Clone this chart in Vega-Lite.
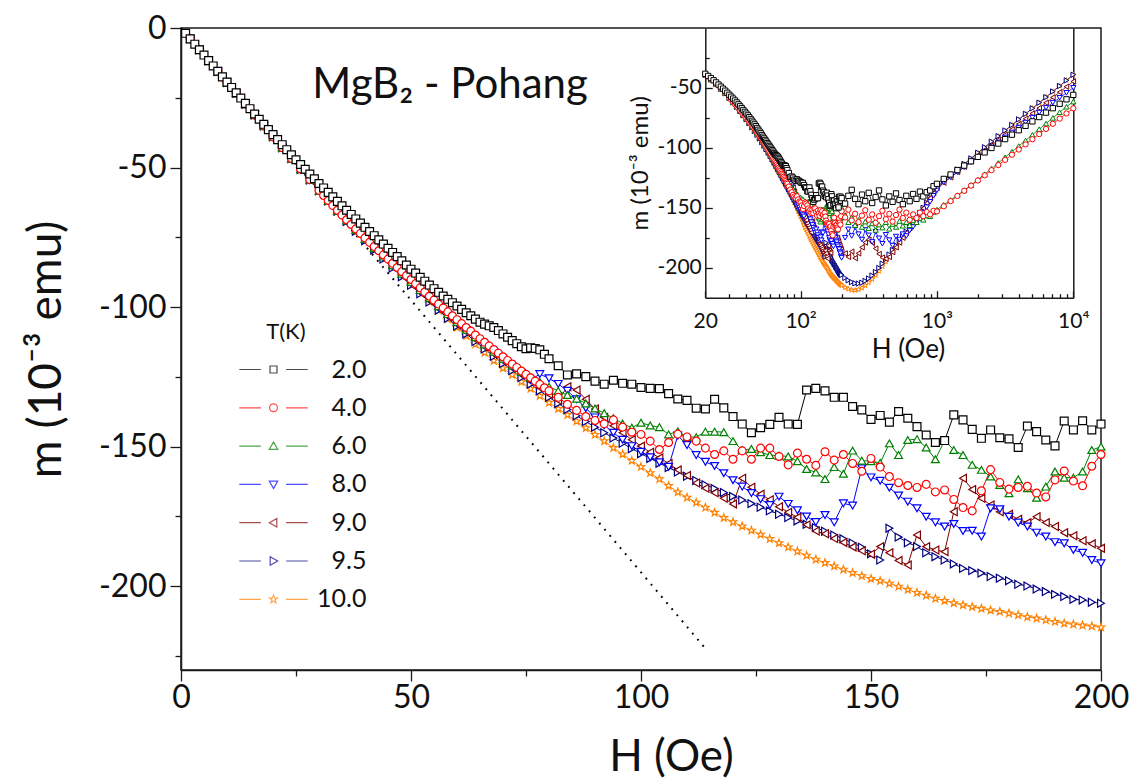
{
"$schema": "https://vega.github.io/schema/vega-lite/v6.json",
"width": 920, "height": 642,
"autosize": {"type": "none"},
"padding": {"left": 181, "top": 28, "right": 40, "bottom": 110},
"background": "white",
"config": {
 "font": "Lato",
 "view": {"stroke": "#1a1a1a", "strokeWidth": 1.5},
 "axis": {"grid": false, "domainColor": "#1a1a1a", "domainWidth": 1.5, "tickColor": "#1a1a1a", "tickWidth": 1.3, "labelColor": "#111", "titleColor": "#111", "titleFontWeight": "normal", "labelFont": "Lato", "titleFont": "Lato", "labelFlush": false, "labelOverlap": false, "labelBound": false}
},
"datasets": {
"dot": [{"H":0,"m":0},{"H":114,"m":-222.3}],
"main": [
{"T":10,"H":2,"m":-3.9},{"T":10,"H":4,"m":-7.8},{"T":10,"H":6,"m":-11.7},{"T":10,"H":8,"m":-15.6},{"T":10,"H":10,"m":-19.5},{"T":10,"H":12,"m":-23.4},{"T":10,"H":14,"m":-27.3},{"T":10,"H":16,"m":-31.2},{"T":10,"H":18,"m":-35.1},{"T":10,"H":20,"m":-39.0},{"T":10,"H":22,"m":-42.9},{"T":10,"H":24,"m":-46.7},{"T":10,"H":26,"m":-50.5},{"T":10,"H":28,"m":-54.3},{"T":10,"H":30,"m":-58.1},{"T":10,"H":32,"m":-61.8},{"T":10,"H":34,"m":-65.4},{"T":10,"H":36,"m":-68.9},{"T":10,"H":38,"m":-72.4},{"T":10,"H":40,"m":-75.8},{"T":10,"H":42,"m":-79.1},{"T":10,"H":44,"m":-82.4},{"T":10,"H":46,"m":-85.6},{"T":10,"H":48,"m":-88.8},{"T":10,"H":50,"m":-91.9},{"T":10,"H":52,"m":-95.0},{"T":10,"H":54,"m":-98.1},{"T":10,"H":56,"m":-101.2},{"T":10,"H":58,"m":-104.3},{"T":10,"H":60,"m":-107.3},{"T":10,"H":62,"m":-110.3},{"T":10,"H":64,"m":-113.3},{"T":10,"H":66,"m":-116.3},{"T":10,"H":68,"m":-119.2},{"T":10,"H":70,"m":-121.9},{"T":10,"H":72,"m":-124.3},{"T":10,"H":74,"m":-126.8},{"T":10,"H":76,"m":-129.2},{"T":10,"H":78,"m":-131.8},{"T":10,"H":80,"m":-134.2},{"T":10,"H":82,"m":-136.4},{"T":10,"H":84,"m":-138.6},{"T":10,"H":86,"m":-140.9},{"T":10,"H":88,"m":-143.3},{"T":10,"H":90,"m":-145.7},{"T":10,"H":92,"m":-148.0},{"T":10,"H":94,"m":-150.4},{"T":10,"H":96,"m":-152.7},{"T":10,"H":98,"m":-155.0},{"T":10,"H":100,"m":-157.2},{"T":10,"H":102,"m":-159.4},{"T":10,"H":104,"m":-161.6},{"T":10,"H":106,"m":-164.0},{"T":10,"H":108,"m":-166.3},{"T":10,"H":110,"m":-168.2},{"T":10,"H":112,"m":-170.0},{"T":10,"H":114,"m":-171.8},{"T":10,"H":116,"m":-173.6},{"T":10,"H":118,"m":-175.5},{"T":10,"H":120,"m":-177.0},{"T":10,"H":122,"m":-178.5},{"T":10,"H":124,"m":-180.0},{"T":10,"H":126,"m":-181.5},{"T":10,"H":128,"m":-183.0},{"T":10,"H":130,"m":-184.5},{"T":10,"H":132,"m":-186.0},{"T":10,"H":134,"m":-187.5},{"T":10,"H":136,"m":-189.0},{"T":10,"H":138,"m":-190.4},{"T":10,"H":140,"m":-191.6},{"T":10,"H":142,"m":-192.8},{"T":10,"H":144,"m":-194.0},{"T":10,"H":146,"m":-195.2},{"T":10,"H":148,"m":-196.3},{"T":10,"H":150,"m":-197.3},{"T":10,"H":152,"m":-198.1},{"T":10,"H":154,"m":-199.0},{"T":10,"H":156,"m":-200.1},{"T":10,"H":158,"m":-201.2},{"T":10,"H":160,"m":-202.3},{"T":10,"H":162,"m":-203.3},{"T":10,"H":164,"m":-204.4},{"T":10,"H":166,"m":-205.2},{"T":10,"H":168,"m":-206.0},{"T":10,"H":170,"m":-206.7},{"T":10,"H":172,"m":-207.4},{"T":10,"H":174,"m":-208.0},{"T":10,"H":176,"m":-208.6},{"T":10,"H":178,"m":-209.1},{"T":10,"H":180,"m":-209.7},{"T":10,"H":182,"m":-210.3},{"T":10,"H":184,"m":-211.0},{"T":10,"H":186,"m":-211.5},{"T":10,"H":188,"m":-212.1},{"T":10,"H":190,"m":-212.7},{"T":10,"H":192,"m":-213.3},{"T":10,"H":194,"m":-213.6},{"T":10,"H":196,"m":-214.0},{"T":10,"H":198,"m":-214.3},{"T":10,"H":200,"m":-214.7},
{"T":9.5,"H":2,"m":-3.9},{"T":9.5,"H":4,"m":-7.8},{"T":9.5,"H":6,"m":-11.7},{"T":9.5,"H":8,"m":-15.6},{"T":9.5,"H":10,"m":-19.5},{"T":9.5,"H":12,"m":-23.4},{"T":9.5,"H":14,"m":-27.3},{"T":9.5,"H":16,"m":-31.2},{"T":9.5,"H":18,"m":-35.1},{"T":9.5,"H":20,"m":-39.0},{"T":9.5,"H":22,"m":-42.9},{"T":9.5,"H":24,"m":-46.8},{"T":9.5,"H":26,"m":-50.7},{"T":9.5,"H":28,"m":-54.5},{"T":9.5,"H":30,"m":-58.3},{"T":9.5,"H":32,"m":-62.0},{"T":9.5,"H":34,"m":-65.7},{"T":9.5,"H":36,"m":-69.3},{"T":9.5,"H":38,"m":-72.8},{"T":9.5,"H":40,"m":-76.2},{"T":9.5,"H":42,"m":-79.5},{"T":9.5,"H":44,"m":-82.8},{"T":9.5,"H":46,"m":-86.0},{"T":9.5,"H":48,"m":-89.1},{"T":9.5,"H":50,"m":-92.2},{"T":9.5,"H":52,"m":-95.2},{"T":9.5,"H":54,"m":-98.2},{"T":9.5,"H":56,"m":-101.1},{"T":9.5,"H":58,"m":-104.0},{"T":9.5,"H":60,"m":-106.8},{"T":9.5,"H":62,"m":-109.6},{"T":9.5,"H":64,"m":-112.3},{"T":9.5,"H":66,"m":-115.0},{"T":9.5,"H":68,"m":-117.6},{"T":9.5,"H":70,"m":-120.2},{"T":9.5,"H":72,"m":-122.7},{"T":9.5,"H":74,"m":-125.2},{"T":9.5,"H":76,"m":-127.6},{"T":9.5,"H":78,"m":-130.0},{"T":9.5,"H":80,"m":-132.3},{"T":9.5,"H":82,"m":-134.5},{"T":9.5,"H":84,"m":-136.7},{"T":9.5,"H":86,"m":-138.9},{"T":9.5,"H":88,"m":-141.0},{"T":9.5,"H":90,"m":-143.0},{"T":9.5,"H":92,"m":-145.0},{"T":9.5,"H":94,"m":-146.9},{"T":9.5,"H":96,"m":-148.8},{"T":9.5,"H":98,"m":-150.7},{"T":9.5,"H":100,"m":-152.5},{"T":9.5,"H":102,"m":-154.2},{"T":9.5,"H":104,"m":-155.9},{"T":9.5,"H":106,"m":-157.5},{"T":9.5,"H":108,"m":-159.1},{"T":9.5,"H":110,"m":-160.6},{"T":9.5,"H":112,"m":-162.1},{"T":9.5,"H":114,"m":-163.6},{"T":9.5,"H":116,"m":-165.0},{"T":9.5,"H":118,"m":-166.4},{"T":9.5,"H":120,"m":-167.8},{"T":9.5,"H":122,"m":-169.1},{"T":9.5,"H":124,"m":-170.4},{"T":9.5,"H":126,"m":-171.7},{"T":9.5,"H":128,"m":-173.0},{"T":9.5,"H":130,"m":-174.2},{"T":9.5,"H":132,"m":-175.4},{"T":9.5,"H":134,"m":-176.6},{"T":9.5,"H":136,"m":-177.8},{"T":9.5,"H":138,"m":-179.0},{"T":9.5,"H":140,"m":-180.3},{"T":9.5,"H":142,"m":-181.6},{"T":9.5,"H":144,"m":-183.0},{"T":9.5,"H":146,"m":-184.5},{"T":9.5,"H":148,"m":-186.0},{"T":9.5,"H":150,"m":-188.4},{"T":9.5,"H":152,"m":-190.6},{"T":9.5,"H":154,"m":-179.2},{"T":9.5,"H":156,"m":-182.4},{"T":9.5,"H":158,"m":-184.4},{"T":9.5,"H":160,"m":-185.8},{"T":9.5,"H":162,"m":-188.0},{"T":9.5,"H":164,"m":-189.4},{"T":9.5,"H":166,"m":-190.6},{"T":9.5,"H":168,"m":-192.0},{"T":9.5,"H":170,"m":-193.6},{"T":9.5,"H":172,"m":-194.4},{"T":9.5,"H":174,"m":-195.3},{"T":9.5,"H":176,"m":-196.5},{"T":9.5,"H":178,"m":-197.1},{"T":9.5,"H":180,"m":-198.0},{"T":9.5,"H":182,"m":-199.3},{"T":9.5,"H":184,"m":-199.9},{"T":9.5,"H":186,"m":-201.0},{"T":9.5,"H":188,"m":-201.9},{"T":9.5,"H":190,"m":-202.9},{"T":9.5,"H":192,"m":-203.7},{"T":9.5,"H":194,"m":-204.7},{"T":9.5,"H":196,"m":-204.9},{"T":9.5,"H":198,"m":-205.7},{"T":9.5,"H":200,"m":-206.1},
{"T":9,"H":2,"m":-3.9},{"T":9,"H":4,"m":-7.8},{"T":9,"H":6,"m":-11.7},{"T":9,"H":8,"m":-15.6},{"T":9,"H":10,"m":-19.5},{"T":9,"H":12,"m":-23.4},{"T":9,"H":14,"m":-27.3},{"T":9,"H":16,"m":-31.2},{"T":9,"H":18,"m":-35.1},{"T":9,"H":20,"m":-39.0},{"T":9,"H":22,"m":-42.9},{"T":9,"H":24,"m":-46.8},{"T":9,"H":26,"m":-50.7},{"T":9,"H":28,"m":-54.5},{"T":9,"H":30,"m":-58.3},{"T":9,"H":32,"m":-62.0},{"T":9,"H":34,"m":-65.7},{"T":9,"H":36,"m":-69.2},{"T":9,"H":38,"m":-72.7},{"T":9,"H":40,"m":-76.0},{"T":9,"H":42,"m":-79.3},{"T":9,"H":44,"m":-82.5},{"T":9,"H":46,"m":-85.7},{"T":9,"H":48,"m":-88.8},{"T":9,"H":50,"m":-91.8},{"T":9,"H":52,"m":-94.8},{"T":9,"H":54,"m":-97.7},{"T":9,"H":56,"m":-100.6},{"T":9,"H":58,"m":-103.4},{"T":9,"H":60,"m":-106.2},{"T":9,"H":62,"m":-108.9},{"T":9,"H":64,"m":-111.6},{"T":9,"H":66,"m":-114.2},{"T":9,"H":68,"m":-116.8},{"T":9,"H":70,"m":-119.3},{"T":9,"H":72,"m":-121.8},{"T":9,"H":74,"m":-124.2},{"T":9,"H":76,"m":-126.6},{"T":9,"H":78,"m":-128.9},{"T":9,"H":80,"m":-131.2},{"T":9,"H":82,"m":-133.4},{"T":9,"H":84,"m":-128.5},{"T":9,"H":86,"m":-129.7},{"T":9,"H":88,"m":-133.0},{"T":9,"H":90,"m":-136.5},{"T":9,"H":92,"m":-139.5},{"T":9,"H":94,"m":-142.5},{"T":9,"H":96,"m":-145.0},{"T":9,"H":98,"m":-147.5},{"T":9,"H":100,"m":-149.8},{"T":9,"H":102,"m":-152.0},{"T":9,"H":104,"m":-154.0},{"T":9,"H":106,"m":-156.0},{"T":9,"H":108,"m":-158.3},{"T":9,"H":110,"m":-160.3},{"T":9,"H":112,"m":-163.0},{"T":9,"H":114,"m":-164.9},{"T":9,"H":116,"m":-166.5},{"T":9,"H":118,"m":-168.5},{"T":9,"H":120,"m":-170.5},{"T":9,"H":122,"m":-161.3},{"T":9,"H":124,"m":-164.5},{"T":9,"H":126,"m":-167.0},{"T":9,"H":128,"m":-169.0},{"T":9,"H":130,"m":-171.5},{"T":9,"H":132,"m":-173.5},{"T":9,"H":134,"m":-175.3},{"T":9,"H":136,"m":-178.0},{"T":9,"H":138,"m":-180.2},{"T":9,"H":140,"m":-181.2},{"T":9,"H":142,"m":-182.9},{"T":9,"H":144,"m":-184.3},{"T":9,"H":146,"m":-185.9},{"T":9,"H":148,"m":-187.3},{"T":9,"H":150,"m":-188.5},{"T":9,"H":152,"m":-185.8},{"T":9,"H":154,"m":-188.0},{"T":9,"H":156,"m":-190.8},{"T":9,"H":158,"m":-192.4},{"T":9,"H":160,"m":-181.6},{"T":9,"H":162,"m":-185.8},{"T":9,"H":164,"m":-187.0},{"T":9,"H":166,"m":-187.6},{"T":9,"H":168,"m":-173.3},{"T":9,"H":170,"m":-161.3},{"T":9,"H":172,"m":-165.3},{"T":9,"H":174,"m":-168.5},{"T":9,"H":176,"m":-170.9},{"T":9,"H":178,"m":-173.3},{"T":9,"H":180,"m":-174.2},{"T":9,"H":182,"m":-176.0},{"T":9,"H":184,"m":-177.2},{"T":9,"H":186,"m":-175.1},{"T":9,"H":188,"m":-177.2},{"T":9,"H":190,"m":-178.6},{"T":9,"H":192,"m":-180.8},{"T":9,"H":194,"m":-181.9},{"T":9,"H":196,"m":-183.7},{"T":9,"H":198,"m":-184.8},{"T":9,"H":200,"m":-186.4},
{"T":8,"H":2,"m":-3.9},{"T":8,"H":4,"m":-7.8},{"T":8,"H":6,"m":-11.7},{"T":8,"H":8,"m":-15.6},{"T":8,"H":10,"m":-19.5},{"T":8,"H":12,"m":-23.4},{"T":8,"H":14,"m":-27.3},{"T":8,"H":16,"m":-31.2},{"T":8,"H":18,"m":-35.1},{"T":8,"H":20,"m":-39.0},{"T":8,"H":22,"m":-42.9},{"T":8,"H":24,"m":-46.8},{"T":8,"H":26,"m":-50.7},{"T":8,"H":28,"m":-54.5},{"T":8,"H":30,"m":-58.3},{"T":8,"H":32,"m":-62.0},{"T":8,"H":34,"m":-65.6},{"T":8,"H":36,"m":-69.1},{"T":8,"H":38,"m":-72.5},{"T":8,"H":40,"m":-75.8},{"T":8,"H":42,"m":-79.0},{"T":8,"H":44,"m":-82.2},{"T":8,"H":46,"m":-85.3},{"T":8,"H":48,"m":-88.4},{"T":8,"H":50,"m":-91.4},{"T":8,"H":52,"m":-94.3},{"T":8,"H":54,"m":-97.2},{"T":8,"H":56,"m":-100.1},{"T":8,"H":58,"m":-102.9},{"T":8,"H":60,"m":-105.6},{"T":8,"H":62,"m":-108.3},{"T":8,"H":64,"m":-111.0},{"T":8,"H":66,"m":-113.6},{"T":8,"H":68,"m":-116.2},{"T":8,"H":70,"m":-118.8},{"T":8,"H":72,"m":-121.3},{"T":8,"H":74,"m":-123.7},{"T":8,"H":76,"m":-126.1},{"T":8,"H":78,"m":-124.0},{"T":8,"H":80,"m":-125.5},{"T":8,"H":82,"m":-127.5},{"T":8,"H":84,"m":-130.0},{"T":8,"H":86,"m":-133.0},{"T":8,"H":88,"m":-136.2},{"T":8,"H":90,"m":-139.5},{"T":8,"H":92,"m":-142.3},{"T":8,"H":94,"m":-145.0},{"T":8,"H":96,"m":-147.5},{"T":8,"H":98,"m":-149.8},{"T":8,"H":100,"m":-151.8},{"T":8,"H":102,"m":-153.8},{"T":8,"H":104,"m":-155.6},{"T":8,"H":106,"m":-157.2},{"T":8,"H":108,"m":-146.0},{"T":8,"H":110,"m":-149.4},{"T":8,"H":112,"m":-153.0},{"T":8,"H":114,"m":-155.4},{"T":8,"H":116,"m":-156.9},{"T":8,"H":118,"m":-159.5},{"T":8,"H":120,"m":-162.0},{"T":8,"H":122,"m":-164.3},{"T":8,"H":124,"m":-166.6},{"T":8,"H":126,"m":-168.8},{"T":8,"H":128,"m":-170.9},{"T":8,"H":130,"m":-167.9},{"T":8,"H":132,"m":-170.5},{"T":8,"H":134,"m":-172.8},{"T":8,"H":136,"m":-175.0},{"T":8,"H":138,"m":-177.0},{"T":8,"H":140,"m":-174.5},{"T":8,"H":142,"m":-177.1},{"T":8,"H":144,"m":-170.3},{"T":8,"H":146,"m":-171.1},{"T":8,"H":148,"m":-157.7},{"T":8,"H":150,"m":-161.0},{"T":8,"H":152,"m":-162.2},{"T":8,"H":154,"m":-164.7},{"T":8,"H":156,"m":-167.5},{"T":8,"H":158,"m":-169.7},{"T":8,"H":160,"m":-172.1},{"T":8,"H":162,"m":-175.1},{"T":8,"H":164,"m":-177.1},{"T":8,"H":166,"m":-178.6},{"T":8,"H":168,"m":-177.7},{"T":8,"H":170,"m":-180.2},{"T":8,"H":172,"m":-180.1},{"T":8,"H":174,"m":-182.2},{"T":8,"H":176,"m":-172.1},{"T":8,"H":178,"m":-172.4},{"T":8,"H":180,"m":-175.1},{"T":8,"H":182,"m":-177.2},{"T":8,"H":184,"m":-178.6},{"T":8,"H":186,"m":-180.8},{"T":8,"H":188,"m":-182.2},{"T":8,"H":190,"m":-184.2},{"T":8,"H":192,"m":-184.6},{"T":8,"H":194,"m":-187.0},{"T":8,"H":196,"m":-188.0},{"T":8,"H":198,"m":-190.6},{"T":8,"H":200,"m":-191.8},
{"T":6,"H":2,"m":-3.9},{"T":6,"H":4,"m":-7.8},{"T":6,"H":6,"m":-11.7},{"T":6,"H":8,"m":-15.6},{"T":6,"H":10,"m":-19.5},{"T":6,"H":12,"m":-23.4},{"T":6,"H":14,"m":-27.3},{"T":6,"H":16,"m":-31.2},{"T":6,"H":18,"m":-35.1},{"T":6,"H":20,"m":-39.0},{"T":6,"H":22,"m":-42.9},{"T":6,"H":24,"m":-46.8},{"T":6,"H":26,"m":-50.6},{"T":6,"H":28,"m":-54.4},{"T":6,"H":30,"m":-58.3},{"T":6,"H":32,"m":-62.0},{"T":6,"H":34,"m":-65.6},{"T":6,"H":36,"m":-69.0},{"T":6,"H":38,"m":-72.4},{"T":6,"H":40,"m":-75.6},{"T":6,"H":42,"m":-78.8},{"T":6,"H":44,"m":-81.9},{"T":6,"H":46,"m":-85.0},{"T":6,"H":48,"m":-88.0},{"T":6,"H":50,"m":-91.0},{"T":6,"H":52,"m":-93.9},{"T":6,"H":54,"m":-96.8},{"T":6,"H":56,"m":-99.7},{"T":6,"H":58,"m":-102.5},{"T":6,"H":60,"m":-105.3},{"T":6,"H":62,"m":-108.1},{"T":6,"H":64,"m":-110.8},{"T":6,"H":66,"m":-113.4},{"T":6,"H":68,"m":-116.0},{"T":6,"H":70,"m":-118.5},{"T":6,"H":72,"m":-120.9},{"T":6,"H":74,"m":-123.2},{"T":6,"H":76,"m":-125.2},{"T":6,"H":78,"m":-126.8},{"T":6,"H":80,"m":-128.5},{"T":6,"H":82,"m":-130.0},{"T":6,"H":84,"m":-131.5},{"T":6,"H":86,"m":-132.8},{"T":6,"H":88,"m":-134.5},{"T":6,"H":90,"m":-136.3},{"T":6,"H":92,"m":-138.0},{"T":6,"H":94,"m":-139.8},{"T":6,"H":96,"m":-141.7},{"T":6,"H":98,"m":-143.2},{"T":6,"H":100,"m":-141.4},{"T":6,"H":102,"m":-142.4},{"T":6,"H":104,"m":-143.0},{"T":6,"H":106,"m":-145.6},{"T":6,"H":108,"m":-144.5},{"T":6,"H":110,"m":-146.5},{"T":6,"H":112,"m":-146.6},{"T":6,"H":114,"m":-144.6},{"T":6,"H":116,"m":-144.6},{"T":6,"H":118,"m":-144.8},{"T":6,"H":120,"m":-148.0},{"T":6,"H":122,"m":-151.2},{"T":6,"H":124,"m":-150.8},{"T":6,"H":126,"m":-152.0},{"T":6,"H":128,"m":-153.0},{"T":6,"H":130,"m":-153.2},{"T":6,"H":132,"m":-153.5},{"T":6,"H":134,"m":-155.2},{"T":6,"H":136,"m":-158.0},{"T":6,"H":138,"m":-159.2},{"T":6,"H":140,"m":-161.6},{"T":6,"H":142,"m":-157.3},{"T":6,"H":144,"m":-159.7},{"T":6,"H":146,"m":-151.4},{"T":6,"H":148,"m":-155.0},{"T":6,"H":150,"m":-155.2},{"T":6,"H":152,"m":-155.8},{"T":6,"H":154,"m":-148.8},{"T":6,"H":156,"m":-153.0},{"T":6,"H":158,"m":-147.6},{"T":6,"H":160,"m":-147.3},{"T":6,"H":162,"m":-150.3},{"T":6,"H":164,"m":-154.5},{"T":6,"H":166,"m":-147.8},{"T":6,"H":168,"m":-151.2},{"T":6,"H":170,"m":-153.0},{"T":6,"H":172,"m":-156.5},{"T":6,"H":174,"m":-158.3},{"T":6,"H":176,"m":-160.7},{"T":6,"H":178,"m":-163.7},{"T":6,"H":180,"m":-166.7},{"T":6,"H":182,"m":-161.7},{"T":6,"H":184,"m":-164.9},{"T":6,"H":186,"m":-168.3},{"T":6,"H":188,"m":-164.3},{"T":6,"H":190,"m":-158.9},{"T":6,"H":192,"m":-161.1},{"T":6,"H":194,"m":-161.1},{"T":6,"H":196,"m":-158.9},{"T":6,"H":198,"m":-151.2},{"T":6,"H":200,"m":-150.0},
{"T":4,"H":2,"m":-3.9},{"T":4,"H":4,"m":-7.8},{"T":4,"H":6,"m":-11.7},{"T":4,"H":8,"m":-15.6},{"T":4,"H":10,"m":-19.5},{"T":4,"H":12,"m":-23.4},{"T":4,"H":14,"m":-27.3},{"T":4,"H":16,"m":-31.2},{"T":4,"H":18,"m":-35.1},{"T":4,"H":20,"m":-39.0},{"T":4,"H":22,"m":-42.9},{"T":4,"H":24,"m":-46.7},{"T":4,"H":26,"m":-50.5},{"T":4,"H":28,"m":-54.3},{"T":4,"H":30,"m":-58.2},{"T":4,"H":31,"m":-60.0},{"T":4,"H":32,"m":-61.8},{"T":4,"H":33,"m":-63.6},{"T":4,"H":34,"m":-65.3},{"T":4,"H":35,"m":-67.0},{"T":4,"H":36,"m":-68.7},{"T":4,"H":37,"m":-70.4},{"T":4,"H":38,"m":-72.0},{"T":4,"H":39,"m":-73.6},{"T":4,"H":40,"m":-75.2},{"T":4,"H":41,"m":-76.8},{"T":4,"H":42,"m":-78.3},{"T":4,"H":43,"m":-79.8},{"T":4,"H":44,"m":-81.3},{"T":4,"H":45,"m":-82.8},{"T":4,"H":46,"m":-84.3},{"T":4,"H":47,"m":-85.8},{"T":4,"H":48,"m":-87.3},{"T":4,"H":49,"m":-88.7},{"T":4,"H":50,"m":-90.1},{"T":4,"H":51,"m":-91.6},{"T":4,"H":52,"m":-93.1},{"T":4,"H":53,"m":-94.6},{"T":4,"H":54,"m":-96.1},{"T":4,"H":55,"m":-97.5},{"T":4,"H":56,"m":-98.9},{"T":4,"H":57,"m":-100.3},{"T":4,"H":58,"m":-101.7},{"T":4,"H":59,"m":-103.1},{"T":4,"H":60,"m":-104.5},{"T":4,"H":61,"m":-105.9},{"T":4,"H":62,"m":-107.3},{"T":4,"H":63,"m":-108.6},{"T":4,"H":64,"m":-110.0},{"T":4,"H":65,"m":-111.3},{"T":4,"H":66,"m":-112.6},{"T":4,"H":67,"m":-113.9},{"T":4,"H":68,"m":-115.2},{"T":4,"H":69,"m":-116.5},{"T":4,"H":70,"m":-117.8},{"T":4,"H":71,"m":-119.1},{"T":4,"H":72,"m":-120.4},{"T":4,"H":73,"m":-121.6},{"T":4,"H":74,"m":-122.9},{"T":4,"H":75,"m":-124.1},{"T":4,"H":76,"m":-125.3},{"T":4,"H":77,"m":-126.5},{"T":4,"H":78,"m":-127.7},{"T":4,"H":79,"m":-128.9},{"T":4,"H":80,"m":-130.0},{"T":4,"H":82,"m":-132.3},{"T":4,"H":84,"m":-134.8},{"T":4,"H":86,"m":-137.0},{"T":4,"H":88,"m":-139.2},{"T":4,"H":90,"m":-140.6},{"T":4,"H":92,"m":-141.8},{"T":4,"H":94,"m":-140.4},{"T":4,"H":96,"m":-143.0},{"T":4,"H":98,"m":-144.8},{"T":4,"H":100,"m":-145.6},{"T":4,"H":102,"m":-148.0},{"T":4,"H":104,"m":-151.0},{"T":4,"H":106,"m":-148.5},{"T":4,"H":108,"m":-145.5},{"T":4,"H":110,"m":-146.5},{"T":4,"H":112,"m":-148.0},{"T":4,"H":114,"m":-150.5},{"T":4,"H":116,"m":-152.8},{"T":4,"H":118,"m":-151.5},{"T":4,"H":120,"m":-154.5},{"T":4,"H":122,"m":-151.5},{"T":4,"H":124,"m":-154.5},{"T":4,"H":126,"m":-150.5},{"T":4,"H":128,"m":-150.5},{"T":4,"H":130,"m":-153.5},{"T":4,"H":132,"m":-156.5},{"T":4,"H":134,"m":-152.3},{"T":4,"H":136,"m":-154.5},{"T":4,"H":138,"m":-156.7},{"T":4,"H":140,"m":-151.8},{"T":4,"H":142,"m":-154.8},{"T":4,"H":144,"m":-152.8},{"T":4,"H":146,"m":-156.0},{"T":4,"H":148,"m":-158.8},{"T":4,"H":150,"m":-154.2},{"T":4,"H":152,"m":-157.3},{"T":4,"H":154,"m":-160.7},{"T":4,"H":156,"m":-162.9},{"T":4,"H":158,"m":-163.9},{"T":4,"H":160,"m":-164.6},{"T":4,"H":162,"m":-163.5},{"T":4,"H":164,"m":-166.2},{"T":4,"H":166,"m":-165.5},{"T":4,"H":168,"m":-168.9},{"T":4,"H":170,"m":-171.8},{"T":4,"H":172,"m":-173.0},{"T":4,"H":174,"m":-165.8},{"T":4,"H":176,"m":-158.2},{"T":4,"H":178,"m":-162.8},{"T":4,"H":180,"m":-165.2},{"T":4,"H":182,"m":-164.6},{"T":4,"H":184,"m":-164.2},{"T":4,"H":186,"m":-166.6},{"T":4,"H":188,"m":-168.0},{"T":4,"H":190,"m":-161.9},{"T":4,"H":192,"m":-158.7},{"T":4,"H":194,"m":-162.3},{"T":4,"H":196,"m":-164.0},{"T":4,"H":198,"m":-157.0},{"T":4,"H":200,"m":-152.8},
{"T":2,"H":1,"m":-1.9},{"T":2,"H":2,"m":-3.9},{"T":2,"H":3,"m":-5.8},{"T":2,"H":4,"m":-7.8},{"T":2,"H":5,"m":-9.7},{"T":2,"H":6,"m":-11.7},{"T":2,"H":7,"m":-13.6},{"T":2,"H":8,"m":-15.5},{"T":2,"H":9,"m":-17.5},{"T":2,"H":10,"m":-19.4},{"T":2,"H":11,"m":-21.3},{"T":2,"H":12,"m":-23.2},{"T":2,"H":13,"m":-25.1},{"T":2,"H":14,"m":-27.0},{"T":2,"H":15,"m":-28.9},{"T":2,"H":16,"m":-30.8},{"T":2,"H":17,"m":-32.7},{"T":2,"H":18,"m":-34.5},{"T":2,"H":19,"m":-36.4},{"T":2,"H":20,"m":-38.2},{"T":2,"H":21,"m":-40.0},{"T":2,"H":22,"m":-41.8},{"T":2,"H":23,"m":-43.6},{"T":2,"H":24,"m":-45.4},{"T":2,"H":25,"m":-47.2},{"T":2,"H":26,"m":-48.9},{"T":2,"H":27,"m":-50.6},{"T":2,"H":28,"m":-52.3},{"T":2,"H":29,"m":-54.0},{"T":2,"H":30,"m":-55.7},{"T":2,"H":31,"m":-57.3},{"T":2,"H":32,"m":-58.9},{"T":2,"H":33,"m":-60.5},{"T":2,"H":34,"m":-62.1},{"T":2,"H":35,"m":-63.7},{"T":2,"H":36,"m":-65.3},{"T":2,"H":37,"m":-66.8},{"T":2,"H":38,"m":-68.4},{"T":2,"H":39,"m":-69.9},{"T":2,"H":40,"m":-71.4},{"T":2,"H":41,"m":-72.9},{"T":2,"H":42,"m":-74.4},{"T":2,"H":43,"m":-75.9},{"T":2,"H":44,"m":-77.4},{"T":2,"H":45,"m":-78.9},{"T":2,"H":46,"m":-80.4},{"T":2,"H":47,"m":-81.9},{"T":2,"H":48,"m":-83.4},{"T":2,"H":49,"m":-84.9},{"T":2,"H":50,"m":-86.4},{"T":2,"H":51,"m":-87.8},{"T":2,"H":52,"m":-89.3},{"T":2,"H":53,"m":-90.7},{"T":2,"H":54,"m":-92.1},{"T":2,"H":55,"m":-93.4},{"T":2,"H":56,"m":-94.7},{"T":2,"H":57,"m":-96.0},{"T":2,"H":58,"m":-97.2},{"T":2,"H":59,"m":-98.4},{"T":2,"H":60,"m":-99.6},{"T":2,"H":61,"m":-100.8},{"T":2,"H":62,"m":-102.0},{"T":2,"H":63,"m":-103.1},{"T":2,"H":64,"m":-104.3},{"T":2,"H":65,"m":-105.4},{"T":2,"H":66,"m":-106.1},{"T":2,"H":67,"m":-106.7},{"T":2,"H":68,"m":-107.3},{"T":2,"H":69,"m":-108.4},{"T":2,"H":70,"m":-109.6},{"T":2,"H":71,"m":-110.8},{"T":2,"H":72,"m":-112.0},{"T":2,"H":73,"m":-113.1},{"T":2,"H":74,"m":-114.2},{"T":2,"H":75,"m":-114.9},{"T":2,"H":76,"m":-114.6},{"T":2,"H":77,"m":-114.8},{"T":2,"H":78,"m":-115.3},{"T":2,"H":79,"m":-116.9},{"T":2,"H":80,"m":-118.5},{"T":2,"H":82,"m":-121.0},{"T":2,"H":84,"m":-124.3},{"T":2,"H":86,"m":-123.9},{"T":2,"H":88,"m":-124.9},{"T":2,"H":90,"m":-126.5},{"T":2,"H":92,"m":-127.6},{"T":2,"H":94,"m":-126.2},{"T":2,"H":96,"m":-127.3},{"T":2,"H":98,"m":-127.6},{"T":2,"H":100,"m":-128.8},{"T":2,"H":102,"m":-129.1},{"T":2,"H":104,"m":-129.2},{"T":2,"H":106,"m":-131.0},{"T":2,"H":108,"m":-132.9},{"T":2,"H":110,"m":-133.4},{"T":2,"H":112,"m":-136.2},{"T":2,"H":114,"m":-136.5},{"T":2,"H":116,"m":-133.0},{"T":2,"H":118,"m":-136.1},{"T":2,"H":120,"m":-139.2},{"T":2,"H":122,"m":-141.9},{"T":2,"H":124,"m":-145.0},{"T":2,"H":126,"m":-143.2},{"T":2,"H":128,"m":-142.0},{"T":2,"H":130,"m":-139.5},{"T":2,"H":132,"m":-141.9},{"T":2,"H":134,"m":-142.0},{"T":2,"H":136,"m":-129.7},{"T":2,"H":138,"m":-129.1},{"T":2,"H":140,"m":-130.0},{"T":2,"H":142,"m":-132.3},{"T":2,"H":144,"m":-132.3},{"T":2,"H":146,"m":-135.6},{"T":2,"H":148,"m":-136.8},{"T":2,"H":150,"m":-140.2},{"T":2,"H":152,"m":-138.8},{"T":2,"H":154,"m":-141.2},{"T":2,"H":156,"m":-137.4},{"T":2,"H":158,"m":-139.8},{"T":2,"H":160,"m":-142.8},{"T":2,"H":162,"m":-145.8},{"T":2,"H":164,"m":-148.5},{"T":2,"H":166,"m":-147.8},{"T":2,"H":168,"m":-138.6},{"T":2,"H":170,"m":-140.4},{"T":2,"H":172,"m":-143.8},{"T":2,"H":174,"m":-147.0},{"T":2,"H":176,"m":-144.0},{"T":2,"H":178,"m":-146.8},{"T":2,"H":180,"m":-147.2},{"T":2,"H":182,"m":-150.3},{"T":2,"H":184,"m":-142.6},{"T":2,"H":186,"m":-144.6},{"T":2,"H":188,"m":-147.6},{"T":2,"H":190,"m":-149.7},{"T":2,"H":192,"m":-140.8},{"T":2,"H":194,"m":-144.0},{"T":2,"H":196,"m":-140.7},{"T":2,"H":198,"m":-144.0},{"T":2,"H":200,"m":-141.9}
],
"ins": [
{"T":10,"H":212,"m":-216.5},{"T":10,"H":224,"m":-217.8},{"T":10,"H":237,"m":-218.6},{"T":10,"H":251,"m":-218.8},{"T":10,"H":266,"m":-218.2},{"T":10,"H":282,"m":-216.8},{"T":10,"H":298,"m":-214.8},{"T":10,"H":316,"m":-212.3},{"T":10,"H":335,"m":-209.5},{"T":10,"H":355,"m":-206.3},{"T":10,"H":376,"m":-202.8},{"T":10,"H":398,"m":-199.0},{"T":10,"H":422,"m":-195.0},{"T":10,"H":447,"m":-191.0},{"T":10,"H":473,"m":-187.0},{"T":10,"H":501,"m":-183.0},{"T":10,"H":531,"m":-179.0},{"T":10,"H":562,"m":-175.0},{"T":10,"H":596,"m":-171.0},{"T":10,"H":631,"m":-167.0},{"T":10,"H":668,"m":-163.0},{"T":10,"H":708,"m":-158.8},{"T":10,"H":750,"m":-154.5},{"T":10,"H":794,"m":-150.2},{"T":10,"H":841,"m":-146.0},{"T":10,"H":891,"m":-141.8},{"T":10,"H":944,"m":-137.5},{"T":10,"H":1000,"m":-133.0},{"T":10,"H":1122,"m":-127.8},{"T":10,"H":1259,"m":-123.2},{"T":10,"H":1413,"m":-118.5},{"T":10,"H":1585,"m":-113.8},{"T":10,"H":1778,"m":-109.1},{"T":10,"H":1995,"m":-104.4},{"T":10,"H":2239,"m":-99.8},{"T":10,"H":2512,"m":-95.1},{"T":10,"H":2818,"m":-90.4},{"T":10,"H":3162,"m":-85.8},{"T":10,"H":3548,"m":-81.1},{"T":10,"H":3981,"m":-76.4},{"T":10,"H":4467,"m":-71.7},{"T":10,"H":5012,"m":-67.0},{"T":10,"H":5623,"m":-62.4},{"T":10,"H":6310,"m":-57.7},{"T":10,"H":7079,"m":-53.0},{"T":10,"H":7943,"m":-48.3},{"T":10,"H":8913,"m":-43.6},{"T":10,"H":10000,"m":-39.0},
{"T":9.5,"H":212,"m":-208.5},{"T":9.5,"H":224,"m":-210.5},{"T":9.5,"H":237,"m":-212.0},{"T":9.5,"H":251,"m":-213.0},{"T":9.5,"H":266,"m":-213.2},{"T":9.5,"H":282,"m":-212.5},{"T":9.5,"H":298,"m":-211.0},{"T":9.5,"H":316,"m":-209.0},{"T":9.5,"H":335,"m":-206.5},{"T":9.5,"H":355,"m":-203.5},{"T":9.5,"H":376,"m":-200.2},{"T":9.5,"H":398,"m":-196.6},{"T":9.5,"H":422,"m":-192.8},{"T":9.5,"H":447,"m":-189.0},{"T":9.5,"H":473,"m":-185.2},{"T":9.5,"H":501,"m":-181.4},{"T":9.5,"H":531,"m":-177.6},{"T":9.5,"H":562,"m":-173.8},{"T":9.5,"H":596,"m":-170.0},{"T":9.5,"H":631,"m":-166.2},{"T":9.5,"H":668,"m":-162.3},{"T":9.5,"H":708,"m":-158.3},{"T":9.5,"H":750,"m":-154.2},{"T":9.5,"H":794,"m":-150.0},{"T":9.5,"H":841,"m":-145.8},{"T":9.5,"H":891,"m":-141.6},{"T":9.5,"H":944,"m":-137.3},{"T":9.5,"H":1000,"m":-133.0},{"T":9.5,"H":1122,"m":-127.3},{"T":9.5,"H":1259,"m":-122.7},{"T":9.5,"H":1413,"m":-118.1},{"T":9.5,"H":1585,"m":-113.4},{"T":9.5,"H":1778,"m":-108.8},{"T":9.5,"H":1995,"m":-104.1},{"T":9.5,"H":2239,"m":-99.5},{"T":9.5,"H":2512,"m":-94.8},{"T":9.5,"H":2818,"m":-90.2},{"T":9.5,"H":3162,"m":-85.5},{"T":9.5,"H":3548,"m":-80.9},{"T":9.5,"H":3981,"m":-76.2},{"T":9.5,"H":4467,"m":-71.6},{"T":9.5,"H":5012,"m":-67.0},{"T":9.5,"H":5623,"m":-62.3},{"T":9.5,"H":6310,"m":-57.7},{"T":9.5,"H":7079,"m":-53.0},{"T":9.5,"H":7943,"m":-48.4},{"T":9.5,"H":8913,"m":-43.7},{"T":9.5,"H":10000,"m":-39.0},
{"T":9,"H":212,"m":-188.0},{"T":9,"H":224,"m":-191.0},{"T":9,"H":237,"m":-186.5},{"T":9,"H":251,"m":-192.0},{"T":9,"H":266,"m":-188.0},{"T":9,"H":282,"m":-183.0},{"T":9,"H":298,"m":-179.0},{"T":9,"H":316,"m":-176.5},{"T":9,"H":335,"m":-179.0},{"T":9,"H":355,"m":-184.0},{"T":9,"H":376,"m":-188.5},{"T":9,"H":398,"m":-191.5},{"T":9,"H":422,"m":-192.5},{"T":9,"H":447,"m":-191.0},{"T":9,"H":473,"m":-187.0},{"T":9,"H":501,"m":-183.0},{"T":9,"H":531,"m":-179.0},{"T":9,"H":562,"m":-175.0},{"T":9,"H":596,"m":-171.0},{"T":9,"H":631,"m":-167.0},{"T":9,"H":668,"m":-163.0},{"T":9,"H":708,"m":-158.8},{"T":9,"H":750,"m":-154.6},{"T":9,"H":794,"m":-150.4},{"T":9,"H":841,"m":-146.2},{"T":9,"H":891,"m":-142.0},{"T":9,"H":944,"m":-137.8},{"T":9,"H":1000,"m":-133.5},{"T":9,"H":1122,"m":-129.1},{"T":9,"H":1259,"m":-124.6},{"T":9,"H":1413,"m":-120.2},{"T":9,"H":1585,"m":-115.7},{"T":9,"H":1778,"m":-111.3},{"T":9,"H":1995,"m":-106.8},{"T":9,"H":2239,"m":-102.4},{"T":9,"H":2512,"m":-97.9},{"T":9,"H":2818,"m":-93.5},{"T":9,"H":3162,"m":-89.1},{"T":9,"H":3548,"m":-84.6},{"T":9,"H":3981,"m":-80.2},{"T":9,"H":4467,"m":-75.7},{"T":9,"H":5012,"m":-71.3},{"T":9,"H":5623,"m":-66.8},{"T":9,"H":6310,"m":-62.4},{"T":9,"H":7079,"m":-57.9},{"T":9,"H":7943,"m":-53.5},{"T":9,"H":8913,"m":-49.0},{"T":9,"H":10000,"m":-44.6},
{"T":8,"H":212,"m":-175.0},{"T":8,"H":224,"m":-168.0},{"T":8,"H":237,"m":-173.5},{"T":8,"H":251,"m":-166.5},{"T":8,"H":266,"m":-172.0},{"T":8,"H":282,"m":-176.5},{"T":8,"H":298,"m":-168.5},{"T":8,"H":316,"m":-173.0},{"T":8,"H":335,"m":-178.5},{"T":8,"H":355,"m":-170.0},{"T":8,"H":376,"m":-175.5},{"T":8,"H":398,"m":-180.0},{"T":8,"H":422,"m":-172.5},{"T":8,"H":447,"m":-177.0},{"T":8,"H":473,"m":-181.5},{"T":8,"H":501,"m":-174.0},{"T":8,"H":531,"m":-176.5},{"T":8,"H":562,"m":-172.0},{"T":8,"H":596,"m":-173.5},{"T":8,"H":631,"m":-169.0},{"T":8,"H":668,"m":-166.0},{"T":8,"H":708,"m":-162.5},{"T":8,"H":750,"m":-158.0},{"T":8,"H":794,"m":-154.0},{"T":8,"H":841,"m":-149.5},{"T":8,"H":891,"m":-145.0},{"T":8,"H":944,"m":-140.0},{"T":8,"H":1000,"m":-135.5},{"T":8,"H":1122,"m":-128.7},{"T":8,"H":1259,"m":-124.5},{"T":8,"H":1413,"m":-120.4},{"T":8,"H":1585,"m":-116.2},{"T":8,"H":1778,"m":-112.1},{"T":8,"H":1995,"m":-107.9},{"T":8,"H":2239,"m":-103.7},{"T":8,"H":2512,"m":-99.6},{"T":8,"H":2818,"m":-95.5},{"T":8,"H":3162,"m":-91.3},{"T":8,"H":3548,"m":-87.2},{"T":8,"H":3981,"m":-83.1},{"T":8,"H":4467,"m":-78.9},{"T":8,"H":5012,"m":-74.8},{"T":8,"H":5623,"m":-70.6},{"T":8,"H":6310,"m":-66.5},{"T":8,"H":7079,"m":-62.3},{"T":8,"H":7943,"m":-58.2},{"T":8,"H":8913,"m":-54.1},{"T":8,"H":10000,"m":-49.9},
{"T":6,"H":212,"m":-156.0},{"T":6,"H":224,"m":-162.0},{"T":6,"H":237,"m":-158.0},{"T":6,"H":251,"m":-164.5},{"T":6,"H":266,"m":-160.0},{"T":6,"H":282,"m":-166.0},{"T":6,"H":298,"m":-161.5},{"T":6,"H":316,"m":-167.0},{"T":6,"H":335,"m":-163.0},{"T":6,"H":355,"m":-168.5},{"T":6,"H":376,"m":-164.0},{"T":6,"H":398,"m":-166.5},{"T":6,"H":422,"m":-162.0},{"T":6,"H":447,"m":-167.5},{"T":6,"H":473,"m":-163.5},{"T":6,"H":501,"m":-166.0},{"T":6,"H":531,"m":-161.0},{"T":6,"H":562,"m":-165.0},{"T":6,"H":596,"m":-162.0},{"T":6,"H":631,"m":-164.5},{"T":6,"H":668,"m":-160.5},{"T":6,"H":708,"m":-162.0},{"T":6,"H":750,"m":-158.5},{"T":6,"H":794,"m":-160.0},{"T":6,"H":841,"m":-156.5},{"T":6,"H":891,"m":-157.0},{"T":6,"H":944,"m":-153.5},{"T":6,"H":1000,"m":-151.5},{"T":6,"H":1122,"m":-147.5},{"T":6,"H":1259,"m":-143.5},{"T":6,"H":1413,"m":-139.5},{"T":6,"H":1585,"m":-135.5},{"T":6,"H":1778,"m":-131.0},{"T":6,"H":1995,"m":-126.5},{"T":6,"H":2239,"m":-122.0},{"T":6,"H":2512,"m":-117.3},{"T":6,"H":2818,"m":-112.6},{"T":6,"H":3162,"m":-107.9},{"T":6,"H":3548,"m":-103.2},{"T":6,"H":3981,"m":-98.5},{"T":6,"H":4467,"m":-93.8},{"T":6,"H":5012,"m":-89.1},{"T":6,"H":5623,"m":-84.4},{"T":6,"H":6310,"m":-79.7},{"T":6,"H":7079,"m":-75.0},{"T":6,"H":7943,"m":-70.3},{"T":6,"H":8913,"m":-65.7},{"T":6,"H":10000,"m":-61.4},
{"T":4,"H":212,"m":-158.0},{"T":4,"H":224,"m":-151.5},{"T":4,"H":237,"m":-160.5},{"T":4,"H":251,"m":-155.0},{"T":4,"H":266,"m":-162.0},{"T":4,"H":282,"m":-156.5},{"T":4,"H":298,"m":-152.0},{"T":4,"H":316,"m":-160.0},{"T":4,"H":335,"m":-155.5},{"T":4,"H":355,"m":-162.5},{"T":4,"H":376,"m":-157.0},{"T":4,"H":398,"m":-152.5},{"T":4,"H":422,"m":-159.5},{"T":4,"H":447,"m":-155.0},{"T":4,"H":473,"m":-161.5},{"T":4,"H":501,"m":-156.0},{"T":4,"H":531,"m":-151.5},{"T":4,"H":562,"m":-158.5},{"T":4,"H":596,"m":-154.0},{"T":4,"H":631,"m":-160.0},{"T":4,"H":668,"m":-155.5},{"T":4,"H":708,"m":-158.5},{"T":4,"H":750,"m":-154.0},{"T":4,"H":794,"m":-157.0},{"T":4,"H":841,"m":-153.5},{"T":4,"H":891,"m":-155.5},{"T":4,"H":944,"m":-152.5},{"T":4,"H":1000,"m":-153.0},{"T":4,"H":1122,"m":-148.7},{"T":4,"H":1259,"m":-144.4},{"T":4,"H":1413,"m":-140.1},{"T":4,"H":1585,"m":-135.8},{"T":4,"H":1778,"m":-131.5},{"T":4,"H":1995,"m":-127.2},{"T":4,"H":2239,"m":-122.9},{"T":4,"H":2512,"m":-118.6},{"T":4,"H":2818,"m":-114.3},{"T":4,"H":3162,"m":-110.0},{"T":4,"H":3548,"m":-105.7},{"T":4,"H":3981,"m":-101.4},{"T":4,"H":4467,"m":-97.1},{"T":4,"H":5012,"m":-92.8},{"T":4,"H":5623,"m":-88.5},{"T":4,"H":6310,"m":-84.2},{"T":4,"H":7079,"m":-79.9},{"T":4,"H":7943,"m":-75.6},{"T":4,"H":8913,"m":-71.3},{"T":4,"H":10000,"m":-67.0},
{"T":2,"H":212,"m":-146.5},{"T":2,"H":224,"m":-140.0},{"T":2,"H":237,"m":-135.0},{"T":2,"H":251,"m":-142.5},{"T":2,"H":266,"m":-147.0},{"T":2,"H":282,"m":-139.0},{"T":2,"H":298,"m":-144.5},{"T":2,"H":316,"m":-137.5},{"T":2,"H":335,"m":-146.0},{"T":2,"H":355,"m":-141.0},{"T":2,"H":376,"m":-135.5},{"T":2,"H":398,"m":-143.0},{"T":2,"H":422,"m":-148.0},{"T":2,"H":447,"m":-140.5},{"T":2,"H":473,"m":-145.0},{"T":2,"H":501,"m":-138.0},{"T":2,"H":531,"m":-143.5},{"T":2,"H":562,"m":-147.0},{"T":2,"H":596,"m":-140.0},{"T":2,"H":631,"m":-144.5},{"T":2,"H":668,"m":-138.5},{"T":2,"H":708,"m":-142.5},{"T":2,"H":750,"m":-136.5},{"T":2,"H":794,"m":-140.5},{"T":2,"H":841,"m":-137.0},{"T":2,"H":891,"m":-135.5},{"T":2,"H":944,"m":-132.0},{"T":2,"H":1000,"m":-130.0},{"T":2,"H":1122,"m":-125.9},{"T":2,"H":1259,"m":-122.2},{"T":2,"H":1413,"m":-118.5},{"T":2,"H":1585,"m":-114.8},{"T":2,"H":1778,"m":-111.2},{"T":2,"H":1995,"m":-107.5},{"T":2,"H":2239,"m":-103.8},{"T":2,"H":2512,"m":-100.1},{"T":2,"H":2818,"m":-96.4},{"T":2,"H":3162,"m":-92.7},{"T":2,"H":3548,"m":-89.0},{"T":2,"H":3981,"m":-85.3},{"T":2,"H":4467,"m":-81.6},{"T":2,"H":5012,"m":-77.9},{"T":2,"H":5623,"m":-74.3},{"T":2,"H":6310,"m":-70.6},{"T":2,"H":7079,"m":-66.9},{"T":2,"H":7943,"m":-63.2},{"T":2,"H":8913,"m":-59.5},{"T":2,"H":10000,"m":-55.8}
]
},
"layer": [
 {
  "data": {"name": "dot"},
  "mark": {"type": "line", "color": "#000", "strokeDash": [1.8, 6.2], "strokeWidth": 2},
  "encoding": {
   "x": {"field": "H", "type": "quantitative", "scale": {"domain": [0, 200], "nice": false}, "axis": null},
   "y": {"field": "m", "type": "quantitative", "scale": {"domain": [-230, 0], "nice": false}, "axis": null}
  }
 },
 {
  "data": {"name": "main"},
  "mark": {"type": "line", "strokeWidth": 1},
  "encoding": {
   "x": {"field": "H", "type": "quantitative", "scale": {"domain": [0, 200], "nice": false}, "axis": null},
   "y": {"field": "m", "type": "quantitative", "scale": {"domain": [-230, 0], "nice": false}, "axis": null},
   "color": {"field": "T", "type": "ordinal", "scale": {"domain": [2,4,6,8,9,9.5,10], "range": ["#000000","#ff0000","#008000","#0000ff","#800000","#000080","#ff8000"]}, "legend": null}
  }
 },
 {
  "data": {"name": "main"},
  "mark": {"type": "point", "filled": true, "fill": "white", "size": 62, "strokeWidth": 1.2, "opacity": 1},
  "encoding": {
   "x": {"field": "H", "type": "quantitative", "scale": {"domain": [0, 200], "nice": false},
     "axis": {"orient": "bottom", "values": [0,25,50,75,100,125,150,175,200], "labelExpr": "datum.value % 50 === 0 ? '' + datum.value : ''", "tickSize": {"condition": {"test": "datum.value % 50 === 0", "value": 11}, "value": 6}, "labelFontSize": 32, "labelPadding": 1, "title": "H (Oe)", "titleFontSize": 44, "titleX": 490, "titleY": 87, "titleBaseline": "middle", "titleAlign": "center"}},
   "y": {"field": "m", "type": "quantitative", "scale": {"domain": [-230, 0], "nice": false},
     "axis": {"orient": "left", "values": [-225,-200,-175,-150,-125,-100,-75,-50,-25,0], "labelExpr": "datum.value % 50 === 0 ? '' + datum.value : ''", "tickSize": {"condition": {"test": "datum.value % 50 === 0", "value": 11}, "value": 6}, "labelFontSize": 32, "labelPadding": 4, "title": "m (10⁻³ emu)", "titleFontSize": 46, "titlePadding": 28}},
   "stroke": {"field": "T", "type": "ordinal", "scale": {"domain": [2,4,6,8,9,9.5,10], "range": ["#000000","#ff0000","#008000","#0000ff","#800000","#000080","#ff8000"]}, "legend": null},
   "shape": {"field": "T", "type": "ordinal", "scale": {"domain": [2,4,6,8,9,9.5,10], "range": ["square","circle","triangle-up","triangle-down","triangle-left","triangle-right","M0,-1L0.235,-0.324L0.951,-0.309L0.38,0.124L0.588,0.809L0,0.4L-0.588,0.809L-0.38,0.124L-0.951,-0.309L-0.235,-0.324Z"]}, "legend": null}
  }
 },
 {
  "data": {"name": "main"},
  "transform": [{"filter": "datum.T < 0"}],
  "mark": {"type": "point", "filled": false, "strokeWidth": 1.2},
  "encoding": {
   "color": {"field": "T", "type": "ordinal", "title": null, "scale": {"domain": [2,4,6,8,9,9.5,10], "range": ["#000000","#ff0000","#008000","#0000ff","#800000","#000080","#ff8000"]},
     "legend": {"orient": "none", "legendX": 80, "legendY": 329, "labelFontSize": 25, "labelAlign": "right", "labelOffset": 80.5, "symbolSize": 144, "symbolStrokeWidth": 1.2, "rowPadding": 12.3, "padding": 0, "labelExpr": "format(datum.value, '.1f')", "labelColor": "#111"}},
   "shape": {"field": "T", "type": "ordinal", "title": null, "scale": {"domain": [2,4,6,8,9,9.5,10], "range": [
     "M-5.7,0H-2.1M2.1,0H5.7M-0.58,-0.58H0.58V0.58H-0.58Z",
     "M-5.7,0H-2.1M2.1,0H5.7M-0.65,0A0.65,0.65 0 1,0 0.65,0A0.65,0.65 0 1,0 -0.65,0Z",
     "M-5.7,0H-2.1M2.1,0H5.7M0,-0.7L0.7,0.55L-0.7,0.55Z",
     "M-5.7,0H-2.1M2.1,0H5.7M0,0.7L0.7,-0.55L-0.7,-0.55Z",
     "M-5.7,0H-2.1M2.1,0H5.7M-0.7,0L0.55,-0.7L0.55,0.7Z",
     "M-5.7,0H-2.1M2.1,0H5.7M0.7,0L-0.55,-0.7L-0.55,0.7Z",
     "M-5.7,0H-2.1M2.1,0H5.7M0,-0.7L0.165,-0.227L0.666,-0.216L0.266,0.087L0.412,0.566L0,0.28L-0.412,0.566L-0.266,0.087L-0.666,-0.216L-0.165,-0.227Z"]},
     "legend": {"orient": "none", "legendX": 80, "legendY": 329, "labelFontSize": 25, "labelAlign": "right", "labelOffset": 80.5, "symbolSize": 144, "symbolStrokeWidth": 1.2, "rowPadding": 12.3, "padding": 0, "labelExpr": "format(datum.value, '.1f')", "labelColor": "#111"}}
  }
 },
 {
  "data": {"values": [{}]},
  "mark": {"type": "text", "fontSize": 42, "align": "center", "baseline": "middle", "color": "#111"},
  "encoding": {
   "x": {"datum": 58.5, "type": "quantitative", "scale": {"domain": [0, 200], "nice": false}, "axis": null},
   "y": {"datum": -20.4, "type": "quantitative", "scale": {"domain": [-230, 0], "nice": false}, "axis": null},
   "text": {"value": "MgB₂ - Pohang"}
  }
 },
 {
  "data": {"values": [{}]},
  "mark": {"type": "text", "fontSize": 22, "align": "center", "baseline": "middle", "color": "#111"},
  "encoding": {
   "x": {"datum": 22.8, "type": "quantitative", "scale": {"domain": [0, 200], "nice": false}, "axis": null},
   "y": {"datum": -108.9, "type": "quantitative", "scale": {"domain": [-230, 0], "nice": false}, "axis": null},
   "text": {"value": "T(K)"}
  }
 },
 {
  "data": {"name": "main"},
  "transform": [{"filter": "datum.H >= 20"}],
  "mark": {"type": "line", "strokeWidth": 0.8},
  "encoding": {
   "x": {"field": "H", "type": "quantitative", "scale": {"type": "log", "domain": [20, 10000], "range": [524.3, 892.3], "nice": false}, "axis": null},
   "y": {"field": "m", "type": "quantitative", "scale": {"domain": [-225, 0], "range": [269.7, 0], "nice": false, "zero": false}, "axis": null},
   "color": {"field": "T", "type": "ordinal", "scale": {"domain": [2,4,6,8,9,9.5,10], "range": ["#000000","#ff0000","#008000","#0000ff","#800000","#000080","#ff8000"]}, "legend": null}
  }
 },
 {
  "data": {"name": "ins"},
  "mark": {"type": "line", "strokeWidth": 0.8},
  "encoding": {
   "x": {"field": "H", "type": "quantitative", "scale": {"type": "log", "domain": [20, 10000], "range": [524.3, 892.3], "nice": false}, "axis": null},
   "y": {"field": "m", "type": "quantitative", "scale": {"domain": [-225, 0], "range": [269.7, 0], "nice": false, "zero": false},
     "axis": {"orient": "right", "offset": -27.7, "labels": false, "ticks": false, "title": null, "domain": true}},
   "color": {"field": "T", "type": "ordinal", "scale": {"domain": [2,4,6,8,9,9.5,10], "range": ["#000000","#ff0000","#008000","#0000ff","#800000","#000080","#ff8000"]}, "legend": null}
  }
 },
 {
  "data": {"name": "main"},
  "transform": [{"filter": "datum.H >= 20"}],
  "mark": {"type": "point", "filled": true, "fill": "white", "size": 28, "strokeWidth": 1, "opacity": 1},
  "encoding": {
   "x": {"field": "H", "type": "quantitative", "scale": {"type": "log", "domain": [20, 10000], "range": [524.3, 892.3], "nice": false}, "axis": null},
   "y": {"field": "m", "type": "quantitative", "scale": {"domain": [-225, 0], "range": [269.7, 0], "nice": false, "zero": false}, "axis": null},
   "stroke": {"field": "T", "type": "ordinal", "scale": {"domain": [2,4,6,8,9,9.5,10], "range": ["#000000","#ff0000","#008000","#0000ff","#800000","#000080","#ff8000"]}, "legend": null},
   "shape": {"field": "T", "type": "ordinal", "scale": {"domain": [2,4,6,8,9,9.5,10], "range": ["square","circle","triangle-up","triangle-down","triangle-left","triangle-right","M0,-1L0.235,-0.324L0.951,-0.309L0.38,0.124L0.588,0.809L0,0.4L-0.588,0.809L-0.38,0.124L-0.951,-0.309L-0.235,-0.324Z"]}, "legend": null}
  }
 },
 {
  "data": {"name": "ins"},
  "mark": {"type": "point", "filled": true, "fill": "white", "size": 28, "strokeWidth": 1, "opacity": 1},
  "encoding": {
   "x": {"field": "H", "type": "quantitative", "scale": {"type": "log", "domain": [20, 10000], "range": [524.3, 892.3], "nice": false},
     "axis": {"orient": "bottom", "offset": -372.3, "values": [20,30,40,50,60,70,80,90,100,200,300,400,500,600,700,800,900,1000,2000,3000,4000,5000,6000,7000,8000,9000,10000], "labelExpr": "datum.value == 20 ? '20' : datum.value == 100 ? '10²' : datum.value == 1000 ? '10³' : datum.value == 10000 ? '10⁴' : ''", "tickSize": {"condition": {"test": "datum.value == 20 || datum.value == 100 || datum.value == 1000 || datum.value == 10000", "value": -7}, "value": -4}, "labelPadding": 20, "labelFontSize": 21, "title": "H (Oe)", "titleFontSize": 26, "titlePadding": 2, "titleX": 727}},
   "y": {"field": "m", "type": "quantitative", "scale": {"domain": [-225, 0], "range": [269.7, 0], "nice": false, "zero": false},
     "axis": {"orient": "left", "offset": -524.3, "values": [-200,-175,-150,-125,-100,-75,-50,-25], "labelExpr": "datum.value % 50 === 0 ? '' + datum.value : ''", "tickSize": {"condition": {"test": "datum.value % 50 === 0", "value": -7}, "value": -4}, "labelPadding": 11, "labelFontSize": 21, "title": "m (10⁻³ emu)", "titleFontSize": 24, "titlePadding": 4}},
   "stroke": {"field": "T", "type": "ordinal", "scale": {"domain": [2,4,6,8,9,9.5,10], "range": ["#000000","#ff0000","#008000","#0000ff","#800000","#000080","#ff8000"]}, "legend": null},
   "shape": {"field": "T", "type": "ordinal", "scale": {"domain": [2,4,6,8,9,9.5,10], "range": ["square","circle","triangle-up","triangle-down","triangle-left","triangle-right","M0,-1L0.235,-0.324L0.951,-0.309L0.38,0.124L0.588,0.809L0,0.4L-0.588,0.809L-0.38,0.124L-0.951,-0.309L-0.235,-0.324Z"]}, "legend": null}
  }
 }
],
"resolve": {"scale": {"x": "independent", "y": "independent", "color": "independent", "shape": "independent", "stroke": "independent"}}
}
